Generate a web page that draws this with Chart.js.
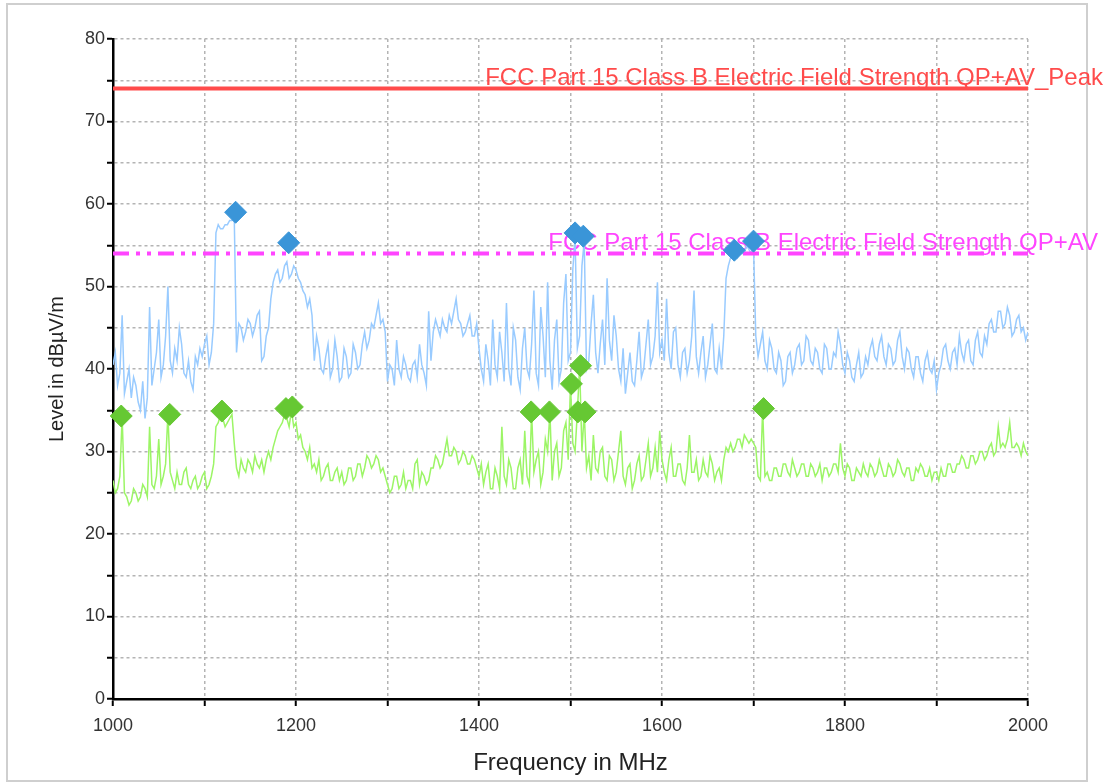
<!DOCTYPE html>
<html lang="en">

<head>
    <meta charset="UTF-8">
    <title>Level vs Frequency</title>
    <script src="https://cdn.jsdelivr.net/npm/chart.js"></script>
    <style>
        html,
        body {
            margin: 0;
            padding: 0;
            background: #fff;
        }

        .marco {
            position: absolute;
            left: 6px;
            top: 3px;
            width: 1082px;
            height: 779px;
            border: 2px solid #cfcfcf;
            box-sizing: border-box;
        }

        #grafica {
            position: absolute;
            left: 0;
            top: 0;
        }
    </style>
</head>

<body>
    <div class="marco"></div>
    <canvas id="grafica" width="1114" height="783"></canvas>

    <script>
        // sweep definition (MHz)
        const sweepStart = 1000;
        const sweepStep = 2.5;

        // peak trace (dBuV/m), one value every 2.5 MHz, one row = 50 MHz
        const peakLevels = [
            40.5, 42, 38, 39.5, 46.5, 37, 38.5, 40, 36.5, 39, 38, 36, 35, 38.5, 34, 36.5, 47.5, 38, 40, 42,
            46, 39, 40.5, 44, 50, 41, 39.5, 42.5, 41, 45, 43, 39.5, 39, 41, 38.5, 37.5, 41.5, 40.5, 42.5, 41.5,
            43, 44, 40.5, 42, 45.5, 56.5, 57.5, 57, 57, 57.5, 57.5, 58, 58, 58.5, 42, 45.5, 45, 43.5, 44.5, 46,
            45.5, 44, 45, 46.5, 47, 41, 41.5, 44, 45, 48.5, 50.5, 51.5, 52, 50.5, 51, 52.5, 53, 51, 51.5, 52.5,
            52, 51, 50.5, 49.5, 49, 47.5, 48.5, 46.5, 41, 44, 42.5, 40, 39.5, 41.5, 43, 39, 40, 43.5, 41.5, 38.5,
            39, 42.5, 41.5, 39, 39.5, 43, 42, 40, 40.5, 43, 44.5, 42.5, 43.5, 45.5, 45, 46.5, 48, 45.5, 46, 44.5,
            38.5, 40.5, 40, 38, 43.5, 40, 39, 41.5, 40.5, 39, 38.5, 40.5, 41, 39, 43, 40.5, 39.5, 38, 47, 41,
            44.5, 46, 45, 44, 46, 45, 44.5, 46.5, 45.5, 47, 48.5, 46, 45.5, 44, 44.5, 45.5, 46.5, 44, 44, 45.5,
            42.5, 40, 38.5, 43, 41, 38, 46, 40.5, 39, 44.5, 42, 38.5, 48, 40, 38, 45, 43.5, 39, 37.5, 42.5,
            45, 40, 39, 43, 49.5, 39.5, 38, 47.5, 44, 39, 50.5, 41, 37.5, 43.5, 46, 38.5, 40, 48, 51.5, 41,
            42, 52, 56, 42.5, 44, 52.5, 55.5, 40, 41, 45.5, 49, 42, 39.5, 43, 46, 40.5, 51, 43.5, 41, 46.5,
            44, 40, 38.5, 42.5, 37, 39.5, 42, 38.5, 38, 41, 44.5, 39, 40, 43, 46, 40.5, 41.5, 44, 50.5, 42,
            43.5, 41, 48.5, 42, 40, 44.5, 45, 40.5, 39, 42, 42.5, 39.5, 41, 44, 49.5, 41.5, 39.5, 42, 44, 39,
            40.5, 43, 45.5, 40, 39.5, 42.5, 40, 44, 51, 52.5, 53.5, 54.5, 54, 53.5, 54.5, 54, 54, 55, 54.5, 54,
            55, 44, 41.5, 43, 44.5, 41, 40, 43.5, 42.5, 40, 39.5, 42, 41, 38, 38.5, 41.5, 42, 39.5, 40.5, 42.5,
            43, 40.5, 41, 44, 43.5, 41, 40.5, 42.5, 42, 40, 39.5, 43, 42.5, 40, 40, 42, 41.5, 44.5, 43, 40.5,
            39.5, 42, 41, 39, 38.5, 40.5, 42, 39, 39.5, 41.5, 40.5, 42.5, 43.5, 41.5, 41, 43, 44, 41.5, 40.5, 43,
            42.5, 40.5, 41, 43.5, 44.5, 41.5, 40, 42.5, 42, 40, 39, 41.5, 41.5, 39.5, 38.5, 41, 42, 40, 39.5, 41,
            37.5, 39.5, 40.5, 42.5, 43, 41, 40, 42, 42.5, 40.5, 44, 42, 41, 43, 43.5, 41, 40.5, 43.5, 44.5, 42,
            41.5, 44, 43, 45.5, 46, 44.5, 44.5, 47, 47, 45, 45.5, 47.5, 46.5, 44, 44.5, 46, 46.5, 44.5, 45, 43.5,
            44.5
        ];

        // average trace (dBuV/m)
        const avgLevels = [
            26.5, 25, 25.5, 27, 34.3, 25, 24.5, 23.5, 24, 25.5, 25, 24, 24.5, 26, 25.5, 24.5, 33, 26, 25.5, 27,
            31.5, 26, 27, 28.5, 34.5, 27.5, 26.5, 25.5, 27.5, 26, 26, 27.5, 28, 26, 25.5, 26.5, 27, 25.5, 26, 27,
            27.5, 25.5, 26, 27, 28.5, 33, 33.5, 34.5, 34, 33, 33.5, 34, 34.5, 31, 28, 27, 29, 28, 27.5, 29,
            28.5, 27.5, 29.5, 28.5, 28, 29, 27.5, 29, 30, 29, 30.5, 31.5, 32.5, 33, 33.5, 34.5, 34, 33, 35, 33,
            33.5, 31.5, 32, 30.5, 30, 29, 30.5, 28, 28.5, 27.5, 29, 26.5, 27, 28, 28.5, 26.5, 26.5, 27.5, 28, 26.5,
            27.5, 26, 26.5, 28, 28, 26.5, 27, 28.5, 28.5, 27, 28, 29.5, 29, 28, 28.5, 29.5, 29, 27.5, 28, 27,
            26, 25, 25.5, 27, 27, 25.5, 26, 27.5, 25.5, 26.5, 26.5, 25.5, 28.5, 29, 26, 27.5, 27, 26, 26.5, 28,
            28, 29.5, 29, 28, 28.5, 30, 31.5, 29.5, 29.5, 30.5, 30, 28.5, 29, 30, 29.5, 28.5, 28.5, 29.5, 29, 28,
            27, 28.5, 26, 27.5, 28.5, 25.5, 25.5, 28, 27, 25.5, 33, 27, 26, 29, 28, 25.5, 25.5, 28, 29, 26,
            32.5, 27, 26, 34.8, 27.5, 29, 30, 26, 27.5, 31.5, 30, 34.8, 26.5, 30, 31, 27, 28, 32.5, 33.5, 29,
            38.2, 31, 30, 34.8, 40.4, 30, 34.8, 28, 29.5, 26.5, 32, 28, 27.5, 30, 30.5, 27, 26.5, 29.5, 29, 26.5,
            27.5, 30, 32.5, 27, 26, 28, 28.5, 25.5, 26.5, 28.5, 29.5, 26.5, 27, 29, 31, 27, 28, 30.5, 27.5, 32.5,
            29, 27.5, 26.5, 29, 30.5, 27, 27, 28.5, 28.5, 26.5, 26, 28, 32, 27.5, 27.5, 29, 26.5, 27, 29, 27.5,
            27, 29.5, 28.5, 26.5, 27.5, 28, 26.5, 29, 30.5, 30, 31, 30, 30.5, 31.5, 31.5, 30.5, 32, 31.5, 31, 31.5,
            31, 30.5, 27, 26.5, 35.2, 27, 27.5, 26.5, 26.5, 28, 28, 27, 27, 28.5, 28.5, 27.5, 27, 29, 28, 27,
            27.5, 28.5, 28.5, 27, 27, 28.5, 28, 27, 27.5, 28.5, 26.5, 28, 28, 27, 27.5, 28.5, 28.5, 27.5, 31, 28,
            27, 28.5, 28, 26.5, 26.5, 28, 27.5, 27, 28.5, 27.5, 27, 28.5, 28, 27, 27.5, 29, 28, 27, 27, 28.5,
            28, 27, 27.5, 29, 28.5, 27.5, 27, 28, 28, 26.5, 26.5, 28, 27.5, 28.5, 28, 27, 27, 28, 26.5, 27.5,
            27.5, 26.5, 28, 27, 27, 28.5, 28.5, 27.5, 27.5, 28.5, 28.5, 29.5, 29, 28, 28, 29.5, 29.5, 28.5, 29, 30,
            30, 29, 29.5, 30.5, 31, 29.5, 30, 33, 30.5, 31, 30.5, 31.5, 33.5, 30.5, 30.5, 31, 30.5, 29.5, 31, 30,
            29.5
        ];

        // final measurement markers
        const peakMarkerFreqs = [1134, 1192, 1505, 1514, 1679, 1700];
        const peakMarkerLevels = [59.0, 55.3, 56.5, 56.1, 54.4, 55.5];
        const avgMarkerFreqs = [1009, 1062, 1119, 1189, 1196, 1457, 1477, 1501, 1508, 1511, 1516, 1711];
        const avgMarkerLevels = [34.3, 34.5, 34.9, 35.2, 35.4, 34.8, 34.8, 38.2, 34.8, 40.4, 34.8, 35.2];

        // limit lines
        const limitFreqs = [1000, 2000];
        const peakLimit = [74, 74];
        const avgLimit = [54, 54];
        const peakLimitLabel = 'FCC Part 15 Class B Electric Field Strength QP+AV_Peak';
        const avgLimitLabel = 'FCC Part 15 Class B Electric Field Strength QP+AV';

        const xTitle = 'Frequency in MHz';
        const yTitle = 'Level in dBµV/m';

        const fuente = '"Liberation Sans", Arial, sans-serif';
        const rojo = '#ff4b4b';
        const magenta = '#ff45ff';

        const freqs = peakLevels.map((_, i) => sweepStart + i * sweepStep);
        const puntos = (xs, ys) => xs.map((x, i) => ({ x: x, y: ys[i] }));

        // texto de las lineas limite
        const etiquetasLimite = {
            id: 'etiquetasLimite',
            beforeDatasetsDraw(chart) {
                const { ctx, chartArea, scales } = chart;
                const y = scales.y;
                ctx.save();
                ctx.font = '24px ' + fuente;
                ctx.textAlign = 'right';
                ctx.textBaseline = 'alphabetic';
                ctx.fillStyle = rojo;
                ctx.fillText(peakLimitLabel, chartArea.right + 75, y.getPixelForValue(peakLimit[1]) - 4);
                ctx.fillStyle = magenta;
                ctx.fillText(avgLimitLabel, chartArea.right + 70, y.getPixelForValue(avgLimit[1]) - 4);
                ctx.restore();
            }
        };

        const ctx = document.getElementById('grafica').getContext('2d');
        new Chart(ctx, {
            type: 'scatter',
            data: {
                datasets: [
                    {
                        data: puntos(peakMarkerFreqs, peakMarkerLevels),
                        pointStyle: 'rectRot', pointRadius: 11,
                        backgroundColor: '#3a95d8', borderColor: '#3a95d8', borderWidth: 1,
                        clip: false, order: 1
                    },
                    {
                        data: puntos(avgMarkerFreqs, avgMarkerLevels),
                        pointStyle: 'rectRot', pointRadius: 11,
                        backgroundColor: '#66c833', borderColor: '#66c833', borderWidth: 1,
                        clip: false, order: 2
                    },
                    {
                        data: puntos(limitFreqs, peakLimit),
                        showLine: true, pointRadius: 0, borderColor: rojo, borderWidth: 4, order: 3
                    },
                    {
                        data: puntos(limitFreqs, avgLimit),
                        showLine: true, pointRadius: 0, borderColor: magenta, borderWidth: 4,
                        borderDash: [16, 7, 4, 7, 4, 7], order: 4
                    },
                    {
                        data: puntos(freqs, peakLevels),
                        showLine: true, pointRadius: 0, borderColor: '#99cbff', borderWidth: 1.5, order: 5
                    },
                    {
                        data: puntos(freqs, avgLevels),
                        showLine: true, pointRadius: 0, borderColor: '#9cf566', borderWidth: 1.5, order: 6
                    }
                ]
            },
            options: {
                responsive: false,
                devicePixelRatio: 1,
                animation: false,
                layout: { padding: { left: 40, top: 39, right: 86, bottom: 0 } },
                plugins: {
                    legend: { display: false },
                    tooltip: { enabled: false }
                },
                scales: {
                    x: {
                        type: 'linear',
                        min: 1000,
                        max: 2000,
                        afterFit: s => { s.height = 84; },
                        ticks: {
                            stepSize: 100,
                            autoSkip: false,
                            maxRotation: 0,
                            padding: 9,
                            color: '#333',
                            font: { family: fuente, size: 18 },
                            callback: v => (v % 200 === 0 ? v : '')
                        },
                        grid: { color: '#b4b4b4', lineWidth: 1.5, tickColor: '#000', tickWidth: 2, tickLength: 7 },
                        border: { color: '#000', width: 2.5, dash: [3, 3] },
                        title: {
                            display: true, text: xTitle, color: '#222',
                            font: { family: fuente, size: 24 },
                            padding: { top: 0, bottom: 5 }
                        }
                    },
                    y: {
                        min: 0,
                        max: 80,
                        afterFit: s => { s.width = 73; },
                        ticks: {
                            stepSize: 5,
                            autoSkip: false,
                            padding: 2,
                            color: '#333',
                            font: { family: fuente, size: 18 },
                            callback: v => (v % 10 === 0 ? v : '')
                        },
                        grid: { color: '#b4b4b4', lineWidth: 1.5, tickColor: '#000', tickWidth: 2, tickLength: 6 },
                        border: { color: '#000', width: 2.5, dash: [3, 3] },
                        title: {
                            display: true, text: yTitle, color: '#222',
                            font: { family: fuente, size: 20 },
                            padding: { top: 5, bottom: 0 }
                        }
                    }
                }
            },
            plugins: [etiquetasLimite]
        });
    </script>
</body>

</html>
